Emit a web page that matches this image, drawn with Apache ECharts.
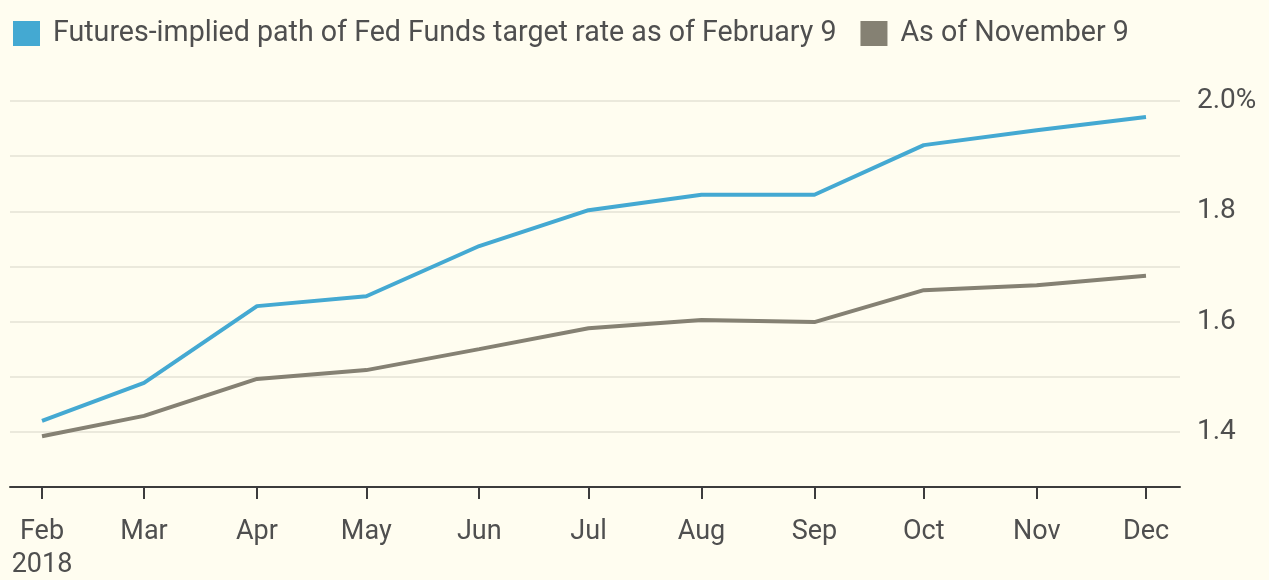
<!DOCTYPE html>
<html><head><meta charset="utf-8">
<script src="https://cdn.jsdelivr.net/npm/echarts@6/dist/echarts.min.js"></script>
<style>html,body{margin:0;padding:0;background:#fffdf0;}#c{width:1269px;height:580px;}</style>
</head><body><div id="c"></div>
<script>
const dates = ['2018-02-01','2018-03-01','2018-04-01','2018-05-01','2018-06-01','2018-07-01','2018-08-01','2018-09-01','2018-10-01','2018-11-01','2018-12-01'];
const monthLabels = ['Jan','Feb','Mar','Apr','May','Jun','Jul','Aug','Sep','Oct','Nov','Dec'];
const febValues = [1.42,1.489,1.628,1.646,1.737,1.802,1.83,1.83,1.92,1.947,1.971];
const novValues = [1.392,1.429,1.496,1.512,1.55,1.588,1.603,1.599,1.657,1.666,1.683];
const seriesNames = ['Futures-implied path of Fed Funds target rate as of February 9','As of November 9'];
const yLabelTicks = [1.4,1.6,1.8,2.0];
const yLabelText = ['1.4','1.6','1.8','2.0%'];

const font = 'Roboto, "Liberation Sans", sans-serif';
const textColor = '#4f4f4f';
const chart = echarts.init(document.getElementById('c'), null, {renderer:'canvas'});
const toPts = v => dates.map((d,i)=>[d, v[i]]);
chart.setOption({
  backgroundColor:'#fffdf0',
  animation:false,
  legend:{
    left:8, top:14, itemWidth:27, itemHeight:25, itemGap:24,
    icon:'rect',
    textStyle:{fontFamily:font, fontSize:28.6, color:textColor, padding:[0,0,0,8]},
    data:seriesNames
  },
  grid:[
    {left:10, right:89, top:101, bottom:93, outerBoundsMode:'none', containLabel:false},
    {left:42, right:123, top:101, bottom:93, outerBoundsMode:'none', containLabel:false}
  ],
  xAxis:[
    {gridIndex:0, type:'value', min:0, max:1, axisLine:{show:true, lineStyle:{color:'#3c3c3c', width:2}}, axisTick:{show:false}, axisLabel:{show:false}, splitLine:{show:false}},
    {gridIndex:1, type:'time', min:dates[0], max:dates[dates.length-1],
     minInterval:28*86400000, maxInterval:31*86400000,
     axisLine:{show:false},
     axisTick:{show:true, length:12, lineStyle:{color:'#3c3c3c', width:2}},
     splitLine:{show:false},
     axisLabel:{margin:29, fontFamily:font, fontSize:27, color:textColor, lineHeight:33, showMinLabel:true, showMaxLabel:true,
       hideOverlap:false,
       formatter:function(v){const d=new Date(v); const m=monthLabels[d.getMonth()]; return d.getMonth()===1 ? m+'\n'+d.getFullYear() : m;}}
    }
  ],
  yAxis:[
    {gridIndex:0, type:'value', position:'right', min:1.3, max:2.0, interval:0.1,
     axisLine:{show:false}, axisTick:{show:false},
     splitLine:{show:true, lineStyle:{color:'#ebe9dc', width:2}},
     axisLabel:{margin:17, fontFamily:font, fontSize:28, color:textColor,
       formatter:function(v){const k=yLabelTicks.findIndex(t=>Math.abs(t-v)<1e-6); return k>=0?yLabelText[k]:'';}}
    },
    {gridIndex:1, type:'value', min:1.3, max:2.0, show:false}
  ],
  series:[
    {name:seriesNames[0], type:'line', xAxisIndex:1, yAxisIndex:1, data:toPts(febValues), showSymbol:false, symbol:'none', lineStyle:{color:'#44a9d2', width:4}, itemStyle:{color:'#44a9d2'}},
    {name:seriesNames[1], type:'line', xAxisIndex:1, yAxisIndex:1, data:toPts(novValues), showSymbol:false, symbol:'none', lineStyle:{color:'#858173', width:4}, itemStyle:{color:'#858173'}}
  ]
});
</script></body></html>
